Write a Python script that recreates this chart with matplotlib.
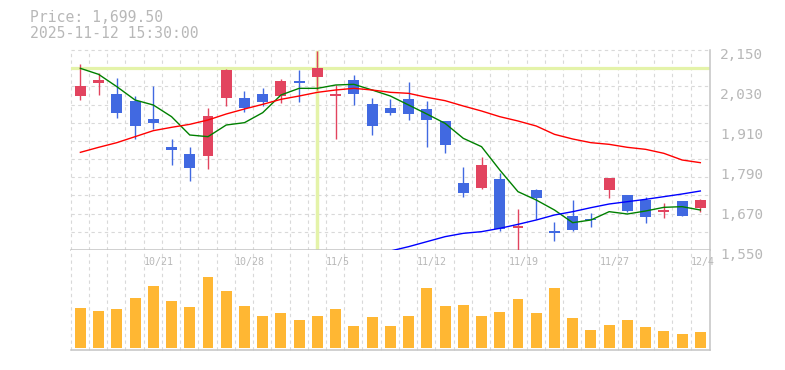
import matplotlib
matplotlib.use('Agg')
import matplotlib.pyplot as plt
import numpy as np
from matplotlib.transforms import ScaledTranslation, blended_transform_factory

# ---------------- data ----------------
dates = ['10/15', '10/16', '10/17', '10/20', '10/21', '10/22', '10/23', '10/24', '10/27', '10/28',
         '10/29', '10/30', '10/31', '11/4', '11/5', '11/6', '11/7', '11/10', '11/11', '11/12',
         '11/13', '11/14', '11/17', '11/18', '11/19', '11/20', '11/21', '11/25', '11/26', '11/27',
         '11/28', '12/1', '12/2', '12/3', '12/4']
label_dates = ['10/21', '10/28', '11/5', '11/12', '11/19', '11/27', '12/4']

opens = [2013, 2052, 2018, 1997, 1943, 1859, 1838, 1833, 2007, 2006,
         2018, 2013, 2057, 2070, 2013, 2060, 1989, 1976, 2003, 1973,
         1937, 1751, 1737, 1763, 1616, 1730, 1603, 1652, 1642, 1731,
         1715, 1699, 1664, 1697, 1677]
highs = [2108, 2081, 2066, 2012, 2042, 1883, 1859, 1976, 2093, 2027,
         2036, 2063, 2090, 2148, 2045, 2075, 2006, 2003, 2054, 1997,
         1937, 1799, 1829, 1780, 1673, 1733, 1634, 1699, 1661, 1766,
         1715, 1708, 1690, 1697, 1703]
lows = [2000, 2015, 1947, 1883, 1912, 1805, 1758, 1793, 1983, 1965,
        1983, 1990, 1995, 2030, 1883, 1986, 1895, 1956, 1940, 1860,
        1842, 1710, 1734, 1608, 1550, 1642, 1578, 1607, 1620, 1707,
        1663, 1632, 1647, 1653, 1663]
closes = [2042, 2060, 1962, 1922, 1932, 1851, 1797, 1952, 2090, 1977,
          1994, 2057, 2052, 2097, 2018, 2019, 1922, 1962, 1959, 1941,
          1866, 1722, 1805, 1614, 1618, 1707, 1601, 1611, 1639, 1766,
          1668, 1650, 1667, 1653, 1699.5]

ma_short = [2095, 2077, 2040, 2000, 1985, 1950, 1895, 1890, 1925, 1932,
            1962, 2015, 2035, 2035, 2045, 2047, 2030, 2012, 1985, 1958,
            1930, 1885, 1860, 1790, 1725, 1700, 1670, 1632, 1640, 1665,
            1658, 1667, 1678, 1680, 1670]
ma_mid = [1843, 1858, 1872, 1890, 1908, 1918, 1927, 1940, 1958, 1973,
          1987, 2002, 2012, 2023, 2030, 2035, 2030, 2023, 2020, 2008,
          1998, 1982, 1967, 1950, 1937, 1922, 1897, 1883, 1872, 1867,
          1858, 1852, 1840, 1820, 1812]
ma_long = [np.nan] * 17 + [1547, 1560, 1575, 1590, 1600, 1605, 1615, 1627, 1640, 1655,
                           1665, 1677, 1688, 1695, 1702, 1710, 1718, 1727]

volumes = [120, 111, 117, 150, 186, 141, 123, 213, 171, 126,
           96, 105, 84, 96, 117, 66, 93, 66, 96, 180,
           126, 129, 96, 108, 147, 105, 180, 90, 54, 69,
           84, 63, 51, 42, 48]

price_ticks = [1550, 1670, 1790, 1910, 2030, 2150]
cross_price = 2095
cross_date = '11/4'
title_lines = ['Price: 1,699.50', '2025-11-12 15:30:00']

# ---------------- style ----------------
W, H = 785, 370
UP = '#E2445F'
DOWN = '#4169E1'
VOL = '#FFB733'
GRID = '#d9d9d9'
SPINE = '#c4c4c4'
TXT = '#b8b8b8'
CROSS = '#e4f3a9'
MONO = 'DejaVu Sans Mono'

fig = plt.figure(figsize=(W / 100, H / 100), dpi=100)


def frac(x0, y0, x1, y1):
    return [x0 / W, 1 - y1 / H, (x1 - x0) / W, (y1 - y0) / H]


ax = fig.add_axes(frac(70.7, 50, 710, 250))
axv = fig.add_axes(frac(70.7, 250, 710, 350))

n = len(dates)
x = np.arange(n)
xmin, xmax = -0.53, n - 0.47

for a in (ax, axv):
    a.set_xlim(xmin, xmax)
    a.set_facecolor('white')
    for s in ('left', 'top'):
        a.spines[s].set_visible(False)
    for s in ('bottom', 'right'):
        a.spines[s].set_color(SPINE)
        a.spines[s].set_linewidth(1.1)
    a.set_xticks([])
    for i in range(n):
        a.axvline(i - 0.53, color=GRID, lw=0.8, ls=(0, (3, 3)), zorder=0, clip_on=False)

# price panel
ax.set_ylim(price_ticks[0], price_ticks[-1])
for k in range(12):
    ax.axhline(1550 + k * 600 / 11, color=GRID, lw=0.8, ls=(0, (3, 3)), zorder=0, clip_on=False)

ci = dates.index(cross_date)
ax.axhline(cross_price, color=CROSS, lw=2.3, zorder=1)
ax.axvline(ci, ymax=0.99, color=CROSS, lw=2.5, zorder=1)

o = np.array(opens, float)
c = np.array(closes, float)
hi = np.array(highs, float)
lo = np.array(lows, float)
cols = [UP if cc >= oo else DOWN for oo, cc in zip(o, c)]
body_lo = np.minimum(o, c)
body_h = np.maximum(np.abs(c - o), 5)
ax.vlines(x, lo, hi, colors=cols, lw=1.0, zorder=3)
ax.bar(x, body_h, bottom=body_lo, width=0.6, color=cols, zorder=4, linewidth=0)

ax.plot(x, ma_short, color='#008000', lw=1.0, zorder=5)
ax.plot(x, ma_mid, color='#ff0000', lw=1.0, zorder=5)
ax.plot(x, ma_long, color='#0000ff', lw=1.0, zorder=5)

ax.yaxis.tick_right()
ax.set_yticks(price_ticks)
ax.set_yticklabels([f'{v:,}' for v in price_ticks])
ax.tick_params(axis='y', length=0, pad=7.2, labelsize=10.4, labelcolor=TXT)
off = ScaledTranslation(0, -3.3 / 100, fig.dpi_scale_trans)
for lab in ax.get_yticklabels():
    lab.set_fontfamily(MONO)
    lab.set_transform(lab.get_transform() + off)

# volume panel
axv.set_ylim(-6, 294)
axv.set_yticks([])
axv.bar(x, volumes, width=0.6, color=VOL, zorder=3, linewidth=0)
tr = blended_transform_factory(axv.transData, axv.transAxes)
for d in label_dates:
    i = dates.index(d)
    axv.text(i - 0.53, 0.875, d, transform=tr, ha='left', va='center',
             fontsize=7.2, family=MONO, color=TXT, clip_on=False, zorder=6)

fig.text(30 / W, 1 - 17 / H, title_lines[0], ha='left', va='center',
         fontsize=10.6, family=MONO, color=TXT)
fig.text(30 / W, 1 - 33 / H, title_lines[1], ha='left', va='center',
         fontsize=10.6, family=MONO, color=TXT)

fig.savefig('out.png', dpi=100, facecolor='white')
